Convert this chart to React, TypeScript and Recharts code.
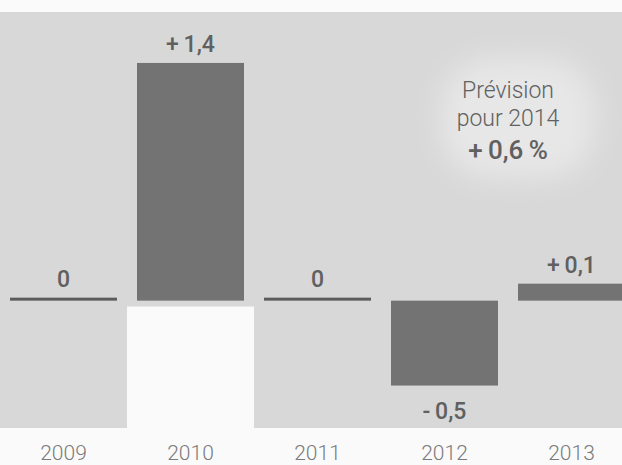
import React from 'react';
import { BarChart, Bar, XAxis, YAxis, ReferenceArea, LabelList } from 'recharts';

// Annual change, in %
const years = ['2009', '2010', '2011', '2012', '2013'];
const growth = [0, 1.4, 0, -0.5, 0.1];

// Forecast note
const forecastLines = ['Prévision', 'pour 2014'];
const forecastValue = 0.6;

const data = years.map((year, i) => ({ year, value: growth[i] }));

const FONT = 'Roboto, "Open Sans", "DejaVu Sans", sans-serif';
const PAPER = '#d8d8d8';
const WHITE = '#fafafa';
const BAR = '#737373';
const ZERO_LINE = '#5c5c5c';
const TEXT = '#606060';

const fmt = (v: number) => {
  const s = Math.abs(v).toFixed(1).replace('.', ',');
  if (v > 0) return `+\u2009${s}`;
  if (v < 0) return `-\u2009${s}`;
  return '0';
};

// Zero values come out as a thin bar (minPointSize), drawn as a darker rule
const BarShape = (props: any) => {
  const { x, y, width, height, payload } = props;
  const top = Math.min(y, y + height);
  const h = Math.abs(height);
  const isZero = payload && payload.value === 0;
  return <rect x={x} y={top} width={width} height={h} fill={isZero ? ZERO_LINE : BAR} />;
};

const ValueLabel = (props: any) => {
  const vb = props.viewBox || {};
  const x = props.x ?? vb.x;
  const y = props.y ?? vb.y;
  const width = props.width ?? vb.width;
  const height = props.height ?? vb.height;
  const value = Number(props.value);
  const top = Math.min(y, y + height);
  const bottom = Math.max(y, y + height);
  const ty = value < 0 ? bottom + 33 : top - 11;
  return (
    <text
      x={x + width / 2}
      y={ty}
      textAnchor="middle"
      fontFamily={FONT}
      fontSize={23}
      fontWeight={500}
      fill={TEXT}
    >
      {fmt(value)}
    </text>
  );
};

const YearTick = (props: any) => (
  <text
    x={props.x}
    y={props.y + 32}
    textAnchor="middle"
    fontFamily={FONT}
    fontSize={21}
    fontWeight={300}
    fill="#7a7a7a"
  >
    {props.payload.value}
  </text>
);

// Forecast note, centred in the area it is attached to, on a lighter patch
const ForecastNote = (props: any) => {
  const { x, y, width, height } = props.viewBox;
  const cx = x + width / 2;
  return (
    <g>
      <rect
        x={x + 60}
        y={y - 5}
        width={width - 100}
        height={height + 10}
        rx={50}
        fill="#e7e7e7"
        filter="url(#soft)"
      />
      <g fontFamily={FONT} fill={TEXT} textAnchor="middle">
        <text x={cx} y={y + 35} fontSize={23} fontWeight={300}>{forecastLines[0]}</text>
        <text x={cx} y={y + 63} fontSize={23} fontWeight={300}>{forecastLines[1]}</text>
        <text x={cx} y={y + 96} fontSize={26} fontWeight={500}>{`${fmt(forecastValue)}\u2009%`}</text>
      </g>
    </g>
  );
};

export default function App() {
  return (
    <div
      style={{
        position: 'absolute',
        left: 0,
        top: 0,
        width: 622,
        height: 465,
        overflow: 'hidden',
        background: WHITE,
      }}
    >
      <BarChart
        width={635}
        height={465}
        data={data}
        margin={{ top: 12, right: 0, bottom: 0, left: 0 }}
        barCategoryGap={10}
      >
        <defs>
          <filter id="soft" x="-30%" y="-30%" width="160%" height="160%">
            <feGaussianBlur stdDeviation="14" />
          </filter>
        </defs>
        <XAxis
          dataKey="year"
          height={37}
          axisLine={false}
          tickLine={false}
          tickSize={0}
          tickMargin={0}
          interval={0}
          tick={<YearTick />}
        />
        <YAxis hide domain={[-0.75, 1.7]} allowDataOverflow />
        <ReferenceArea y1={-0.75} y2={1.7} fill={PAPER} fillOpacity={1} stroke="none" />
        <ReferenceArea x1="2010" x2="2010" y1={-0.75} y2={-0.035} fill={WHITE} fillOpacity={1} stroke="none" />
        <ReferenceArea
          x1="2012"
          x2="2013"
          y1={0.75}
          y2={1.4}
          fill="none"
          fillOpacity={0}
          stroke="none"
          label={<ForecastNote />}
        />
        <Bar dataKey="value" isAnimationActive={false} minPointSize={3} shape={<BarShape />}>
          <LabelList dataKey="value" content={<ValueLabel />} />
        </Bar>
      </BarChart>
    </div>
  );
}
